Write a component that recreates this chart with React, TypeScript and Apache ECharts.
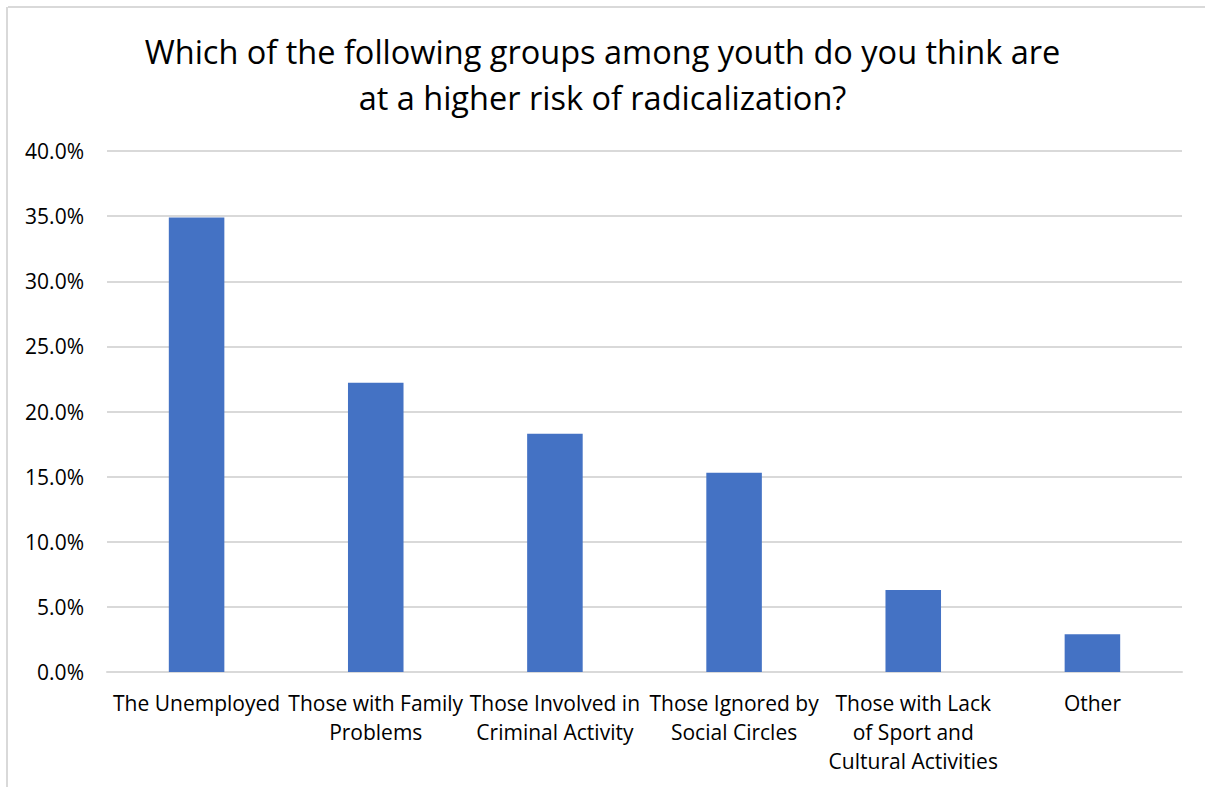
import React, { useEffect, useRef } from "react";
import * as echarts from "echarts";

const TITLE = "Which of the following groups among youth do you think are\nat a higher risk of radicalization?";

const categories = [
  "The Unemployed",
  "Those with Family\nProblems",
  "Those Involved in\nCriminal Activity",
  "Those Ignored by\nSocial Circles",
  "Those with Lack\nof Sport and\nCultural Activities",
  "Other",
];

// Share of respondents, in percent
const shares = [34.9, 22.2, 18.3, 15.3, 6.3, 2.9];

const yTicks = { min: 0, max: 40, interval: 5 };

const FONT = "'Open Sans', sans-serif";

export default function App() {
  const ref = useRef<HTMLDivElement>(null);

  useEffect(() => {
    document.body.style.margin = "0";
    if (!ref.current) return;
    const chart = echarts.init(ref.current, undefined, { renderer: "svg" });
    chart.setOption({
      animation: false,
      backgroundColor: "#ffffff",
      title: {
        text: TITLE,
        left: "center",
        top: 23,
        textStyle: {
          fontFamily: FONT,
          fontSize: 32.5,
          fontWeight: "normal",
          color: "#000000",
          lineHeight: 46,
        },
      },
      graphic: [
        {
          type: "line",
          shape: { x1: 8, y1: 7, x2: 1205, y2: 7 },
          style: { stroke: "#d9d9d9", lineWidth: 2 },
        },
        {
          type: "line",
          shape: { x1: 7, y1: 7, x2: 7, y2: 787 },
          style: { stroke: "#d9d9d9", lineWidth: 2 },
        },
      ],
      grid: { left: 107, right: 23, top: 151, bottom: 115, containLabel: false },
      xAxis: {
        type: "category",
        data: categories,
        axisTick: { show: false },
        axisLine: { lineStyle: { color: "#d9d9d9", width: 2 } },
        axisLabel: {
          interval: 0,
          margin: 16,
          fontFamily: FONT,
          fontSize: 21,
          color: "#000000",
          lineHeight: 29,
        },
      },
      yAxis: {
        type: "value",
        min: yTicks.min,
        max: yTicks.max,
        interval: yTicks.interval,
        axisLine: { show: false },
        axisTick: { show: false },
        splitLine: { lineStyle: { color: "#d9d9d9", width: 2 } },
        axisLabel: {
          margin: 23,
          fontFamily: FONT,
          fontSize: 21,
          color: "#000000",
          formatter: (v: number) => v.toFixed(1) + "%",
        },
      },
      series: [
        {
          type: "bar",
          data: shares,
          barWidth: "31%",
          itemStyle: { color: "#4472C4" },
        },
      ],
    });
    return () => chart.dispose();
  }, []);

  return <div ref={ref} style={{ width: 1205, height: 787 }} />;
}
